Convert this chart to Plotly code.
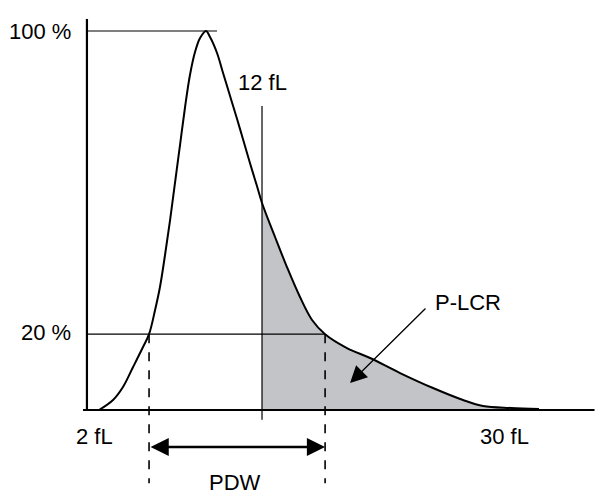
import plotly.graph_objects as go

# Platelet volume distribution (x in fL, y in % of peak)
volume_fl = [2.0, 2.86, 3.47, 4.09, 4.70, 5.07, 5.44, 5.74, 6.05, 6.36, 6.66, 6.97, 7.28,
             7.58, 7.89, 8.20, 8.56, 8.81, 9.24, 9.61, 10.04, 10.47, 10.83, 11.26, 11.69,
             12.0, 12.80, 13.53, 14.33, 15.07, 15.87, 17.21, 18.63, 20.47, 22.49, 24.33,
             25.56, 27.28, 28.99]
frequency_pct = [0, 2.64, 6.07, 11.35, 16.62, 20.0, 26.39, 32.45, 40.90, 50.13, 59.89, 69.92,
                 79.95, 88.39, 94.46, 98.15, 100, 98.42, 94.20, 88.92, 82.85, 76.78,
                 71.50, 65.17, 59.10, 54.62, 45.65, 37.73, 29.82, 23.75, 20.0, 16.36, 13.72,
                 9.76, 5.80, 2.64, 1.06, 0.53, 0.26]

lcr_threshold_fl = 12.0
peak_level = 100
pdw_level = 20
pdw_low_fl = 5.07
pdw_high_fl = 15.87

axis_labels = {"y_top": "100 %", "y_pdw": "20 %", "x_low": "2 fL", "x_high": "30 fL",
               "threshold": "12 fL", "pdw": "PDW", "lcr": "P-LCR"}

# axis frame (in data units)
x_axis_start, x_axis_end = 1.02, 32.4
y_axis_x, y_axis_top = 1.26, 103.2

FONT = dict(family="Liberation Sans, Arial, sans-serif", size=22, color="black")

fig = go.Figure()

# shaded P-LCR area (x >= 12 fL)
lcr_x = [x for x in volume_fl if x >= lcr_threshold_fl]
lcr_y = [y for x, y in zip(volume_fl, frequency_pct) if x >= lcr_threshold_fl]
fig.add_trace(go.Scatter(x=lcr_x, y=lcr_y, mode="lines", fill="tozeroy",
                         fillcolor="#c3c4c8", line=dict(color="rgba(0,0,0,0)", width=0, shape="spline"),
                         hoverinfo="skip", showlegend=False))

# curve
fig.add_trace(go.Scatter(x=volume_fl, y=frequency_pct, mode="lines",
                         line=dict(color="black", width=2, shape="spline", smoothing=1.0),
                         showlegend=False))

shapes = [
    # axes
    dict(type="line", x0=x_axis_start, x1=x_axis_end, y0=0, y1=0, line=dict(color="black", width=2.2)),
    dict(type="line", x0=y_axis_x, x1=y_axis_x, y0=0, y1=y_axis_top, line=dict(color="black", width=2.2)),
    # 100 % and 20 % reference lines
    dict(type="line", x0=y_axis_x, x1=9.24, y0=peak_level, y1=peak_level, line=dict(color="black", width=1.2)),
    dict(type="line", x0=y_axis_x, x1=pdw_high_fl, y0=pdw_level, y1=pdw_level, line=dict(color="black", width=1.2)),
    # 12 fL threshold
    dict(type="line", x0=lcr_threshold_fl, x1=lcr_threshold_fl, y0=-2.6, y1=80.2, line=dict(color="black", width=1.2)),
    # PDW dashed bounds
    dict(type="line", x0=pdw_low_fl, x1=pdw_low_fl, y0=pdw_level, y1=-19.3, line=dict(color="black", width=1.6, dash="dash")),
    dict(type="line", x0=pdw_high_fl, x1=pdw_high_fl, y0=pdw_level, y1=-19.3, line=dict(color="black", width=1.6, dash="dash")),
]

annotations = [
    dict(x=0.41, y=peak_level, text=axis_labels["y_top"], xanchor="right", yanchor="middle", showarrow=False),
    dict(x=0.41, y=pdw_level + 0.5, text=axis_labels["y_pdw"], xanchor="right", yanchor="middle", showarrow=False),
    dict(x=lcr_threshold_fl, y=86.5, text=axis_labels["threshold"], xanchor="center", yanchor="middle", showarrow=False),
    dict(x=1.75, y=-7.1, text=axis_labels["x_low"], xanchor="center", yanchor="middle", showarrow=False),
    dict(x=26.9, y=-7.1, text=axis_labels["x_high"], xanchor="center", yanchor="middle", showarrow=False),
    dict(x=10.34, y=-19.0, text=axis_labels["pdw"], xanchor="center", yanchor="middle", showarrow=False),
    dict(x=24.64, y=28.5, text=axis_labels["lcr"], xanchor="center", yanchor="middle", showarrow=False),
    # PDW double arrow
    dict(x=pdw_high_fl, y=-9.76, ax=pdw_low_fl, ay=-9.76, axref="x", ayref="y", xref="x", yref="y",
         text="", showarrow=True, arrowhead=2, arrowside="end+start", arrowsize=1.4, arrowwidth=2.6,
         arrowcolor="black", standoff=0, startstandoff=0),
    # P-LCR pointer
    dict(x=17.40, y=7.1, ax=22.12, ay=27.2, axref="x", ayref="y", xref="x", yref="y",
         text="", showarrow=True, arrowhead=2, arrowsize=2.6, arrowwidth=1.3,
         arrowcolor="black", standoff=0),
]
for a in annotations:
    a["font"] = FONT

# ranges compensate for the 8px default page margin
fig.update_layout(
    width=611, height=502, margin=dict(l=0, r=0, t=0, b=0),
    paper_bgcolor="white", plot_bgcolor="white",
    xaxis=dict(range=[-3.583, 33.90], visible=False, fixedrange=True),
    yaxis=dict(range=[-26.38, 106.07], visible=False, fixedrange=True),
    shapes=shapes, annotations=annotations, showlegend=False,
)

fig.write_html("out.html")
